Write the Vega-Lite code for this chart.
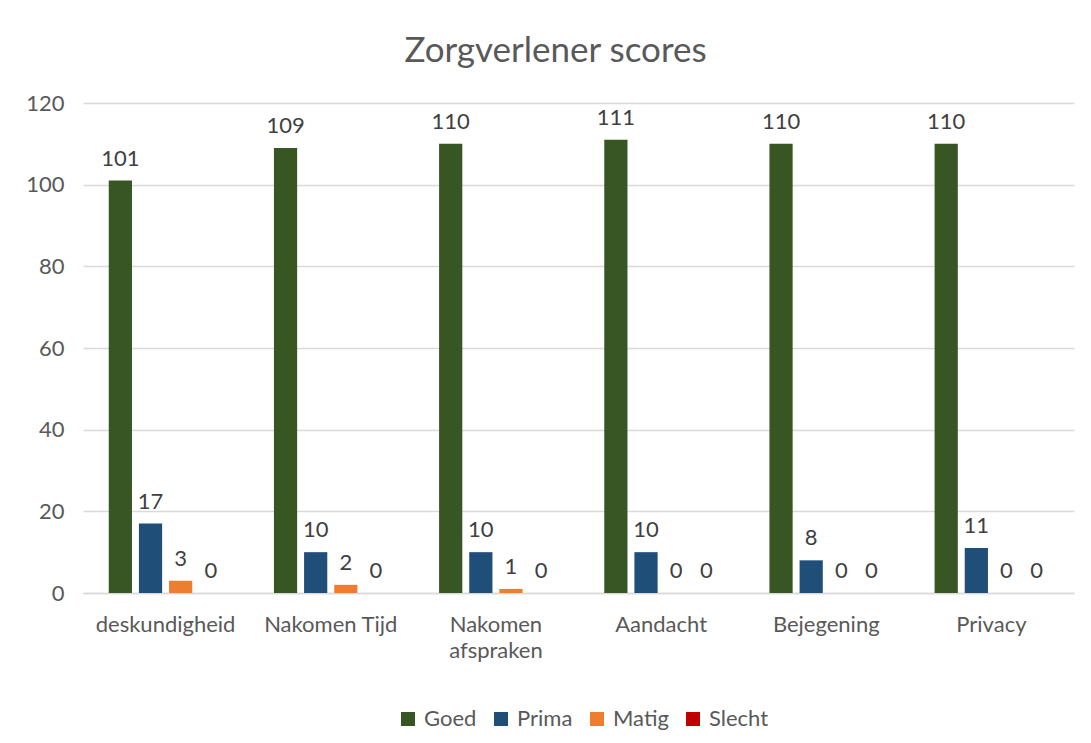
{
  "$schema": "https://vega.github.io/schema/vega-lite/v6.json",
  "width": 991,
  "height": 490,
  "autosize": {"type": "none"},
  "padding": {"left": 83, "top": 103, "right": 17, "bottom": 150},
  "background": "white",
  "title": {
    "text": "Zorgverlener scores",
    "font": "Lato",
    "fontSize": 35,
    "fontWeight": "normal",
    "color": "#595959",
    "anchor": "middle",
    "baseline": "bottom",
    "offset": -12,
    "dx": -23
  },
  "data": {
    "values": [
      {"categorie": "deskundigheid", "score": "Goed", "aantal": 101},
      {"categorie": "deskundigheid", "score": "Prima", "aantal": 17},
      {"categorie": "deskundigheid", "score": "Matig", "aantal": 3},
      {"categorie": "deskundigheid", "score": "Slecht", "aantal": 0},
      {"categorie": "Nakomen Tijd", "score": "Goed", "aantal": 109},
      {"categorie": "Nakomen Tijd", "score": "Prima", "aantal": 10},
      {"categorie": "Nakomen Tijd", "score": "Matig", "aantal": 2},
      {"categorie": "Nakomen Tijd", "score": "Slecht", "aantal": 0},
      {"categorie": "Nakomen afspraken", "score": "Goed", "aantal": 110},
      {"categorie": "Nakomen afspraken", "score": "Prima", "aantal": 10},
      {"categorie": "Nakomen afspraken", "score": "Matig", "aantal": 1},
      {"categorie": "Nakomen afspraken", "score": "Slecht", "aantal": 0},
      {"categorie": "Aandacht", "score": "Goed", "aantal": 111},
      {"categorie": "Aandacht", "score": "Prima", "aantal": 10},
      {"categorie": "Aandacht", "score": "Matig", "aantal": 0},
      {"categorie": "Aandacht", "score": "Slecht", "aantal": 0},
      {"categorie": "Bejegening", "score": "Goed", "aantal": 110},
      {"categorie": "Bejegening", "score": "Prima", "aantal": 8},
      {"categorie": "Bejegening", "score": "Matig", "aantal": 0},
      {"categorie": "Bejegening", "score": "Slecht", "aantal": 0},
      {"categorie": "Privacy", "score": "Goed", "aantal": 110},
      {"categorie": "Privacy", "score": "Prima", "aantal": 11},
      {"categorie": "Privacy", "score": "Matig", "aantal": 0},
      {"categorie": "Privacy", "score": "Slecht", "aantal": 0}
    ]
  },
  "encoding": {
    "x": {
      "field": "categorie",
      "type": "nominal",
      "sort": null,
      "scale": {"paddingInner": 0.27, "paddingOuter": 0.135},
      "axis": {
        "title": null,
        "labelAngle": 0,
        "labelFont": "Lato",
        "labelFontSize": 22,
        "labelColor": "#595959",
        "labelPadding": 21,
        "labelLineHeight": 26,
        "labelBaseline": "top",
        "ticks": false,
        "domainColor": "#D9D9D9",
        "domainWidth": 1.5,
        "labelExpr": "datum.label == 'Nakomen afspraken' ? ['Nakomen', 'afspraken'] : datum.label"
      }
    },
    "xOffset": {
      "field": "score",
      "type": "nominal",
      "sort": ["Goed", "Prima", "Matig", "Slecht"],
      "scale": {"paddingInner": 0.23, "paddingOuter": 0.115}
    },
    "y": {
      "field": "aantal",
      "type": "quantitative",
      "scale": {"domain": [0, 120]},
      "axis": {
        "title": null,
        "values": [0, 20, 40, 60, 80, 100, 120],
        "labelFont": "Lato",
        "labelFontSize": 22,
        "labelColor": "#595959",
        "labelPadding": 19,
        "ticks": false,
        "domain": false,
        "gridColor": "#D9D9D9",
        "gridWidth": 1.5
      }
    }
  },
  "layer": [
    {
      "mark": {"type": "bar"},
      "encoding": {
        "color": {
          "field": "score",
          "type": "nominal",
          "scale": {
            "domain": ["Goed", "Prima", "Matig", "Slecht"],
            "range": ["#375623", "#1F4E79", "#ED7D31", "#C00000"]
          },
          "legend": {
            "title": null,
            "orient": "none",
            "direction": "horizontal",
            "legendX": 314,
            "legendY": 605,
            "symbolType": "square",
            "symbolSize": 196,
            "symbolStrokeWidth": 0,
            "labelFont": "Lato",
            "labelFontSize": 22,
            "labelColor": "#595959",
            "labelOffset": 5,
            "columnPadding": 13
          }
        }
      }
    },
    {
      "mark": {
        "type": "text",
        "baseline": "bottom",
        "dy": -10,
        "font": "Lato",
        "fontSize": 22,
        "color": "#404040"
      },
      "encoding": {
        "text": {"field": "aantal", "type": "quantitative"}
      }
    }
  ],
  "config": {"view": {"stroke": null}}
}
